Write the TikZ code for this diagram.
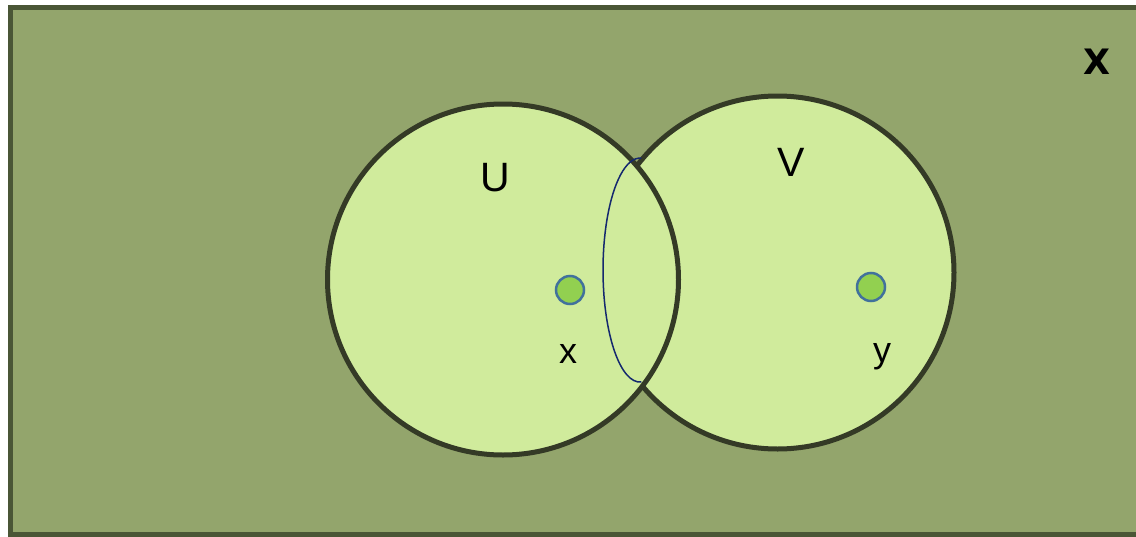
\documentclass[tikz,border=0pt]{standalone}
\usepackage{fontspec}
\setmainfont{Liberation Sans}[BoldFont={Liberation Sans Bold}]
\newfontfamily\heavyfont{DejaVu Sans}[BoldFont={DejaVu Sans Bold}]
\definecolor{bgolive}{RGB}{147,165,108}
\definecolor{bgborder}{RGB}{74,86,54}
\definecolor{setfill}{RGB}{208,235,156}
\definecolor{setline}{RGB}{52,58,38}
\definecolor{dotfill}{RGB}{146,208,80}
\definecolor{dotline}{RGB}{65,113,156}
\definecolor{lensline}{RGB}{20,40,110}
\tikzset{
  setcircle/.style={circle, draw=setline, fill=setfill, line width=5pt, inner sep=0pt, minimum size=#1},
  pointdot/.style={circle, draw=dotline, fill=dotfill, line width=2.5pt, inner sep=0pt, minimum size=28pt},
  setlabel/.style={inner sep=0pt, font=\fontsize{41}{41}\selectfont},
  ptlabel/.style={inner sep=0pt, font=\fontsize{36}{36}\selectfont},
}
\begin{document}
\begin{tikzpicture}[x=1pt,y=-1pt]
\useasboundingbox (0,0) rectangle (1136,536);
\draw[bgborder, fill=bgolive, line width=5pt] (10.5,7.5) rectangle (1145,534);
\node[setcircle=353pt] (V) at (777.5,272.5) {};
\node[setcircle=351pt] (U) at (503,279.5) {};
\draw[lensline, line width=1.5pt] (641.3,382) arc[start angle=88, end angle=272, x radius=37, y radius=112];
\node[pointdot] (xdot) at (570,290) {};
\node[pointdot] (ydot) at (871,287) {};
\node[setlabel] (Ulab) at (495,178) {U};
\node[setlabel] (Vlab) at (791,162) {V};
\node[ptlabel, anchor=base] (xlab) at (568,363) {x};
\node[ptlabel, anchor=base] (ylab) at (882,362) {y};
\node[inner sep=0pt, font=\heavyfont\bfseries\fontsize{35}{35}\selectfont] (Xlab) at (1097,62) {X};
\end{tikzpicture}
\end{document}
